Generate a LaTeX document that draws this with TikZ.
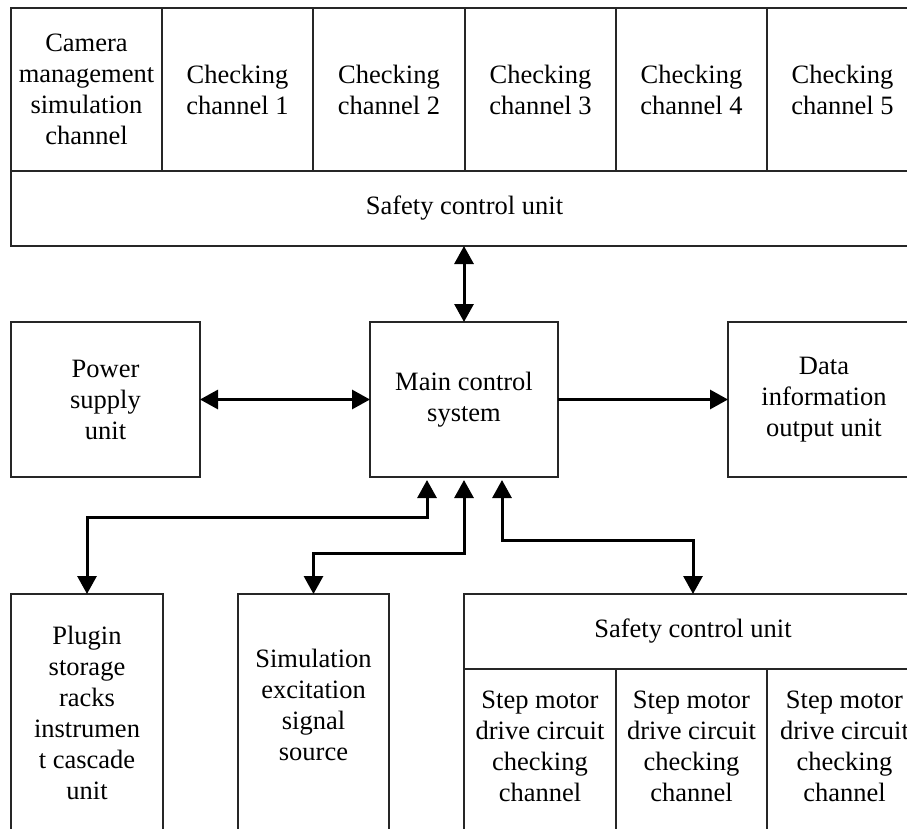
\documentclass[tikz,border=0pt]{standalone}
\usepackage{fontspec}
\setmainfont{Liberation Serif}
\usetikzlibrary{arrows.meta}
\tikzset{
  txt/.style={inner sep=0pt, align=center, font=\fontsize{26.5}{31}\selectfont},
  box/.style={draw=black!85, line width=1.1pt, inner sep=0pt, outer sep=0pt, txt},
  arr/.style={line width=3pt, {Triangle[length=18pt,width=19pt]}-{Triangle[length=18pt,width=19pt]}},
  arrone/.style={line width=3pt, -{Triangle[length=18pt,width=19pt]}}
}
\begin{document}
\begin{tikzpicture}[x=1pt,y=-1pt]
\useasboundingbox (0,0) rectangle (907,829);
\fill[white] (0,0) rectangle (907,829);
\clip (0,0) rectangle (907,829);
% top row
\node[box, minimum width=907pt, minimum height=75pt] (safetytop) at (464.5,208.5) {Safety control unit};
\node[box, minimum width=151pt, minimum height=163pt] (cam) at (86.5,89.5) {Camera\\management\\simulation\\channel};
\node[box, minimum width=151pt, minimum height=163pt] (ch1) at (237.5,89.5) {Checking\\channel 1};
\node[box, minimum width=152pt, minimum height=163pt] (ch2) at (389,89.5) {Checking\\channel 2};
\node[box, minimum width=151pt, minimum height=163pt] (ch3) at (540.5,89.5) {Checking\\channel 3};
\node[box, minimum width=151pt, minimum height=163pt] (ch4) at (691.5,89.5) {Checking\\channel 4};
\node[box, minimum width=151pt, minimum height=163pt] (ch5) at (842.5,89.5) {Checking\\channel 5};
% middle row
\node[box, minimum width=188pt, minimum height=155pt] (main) at (464,399.5) {Main control\\system};
\node[box, minimum width=189pt, minimum height=155pt] (power) at (105.5,399.5) {Power\\supply\\unit};
\node[box, minimum width=192pt, minimum height=155pt] (data) at (824,399.5) {Data\\information\\output unit};
% bottom row (boxes run past the lower edge)
\node[box, minimum width=152pt, minimum height=260pt,
  label={[txt, yshift=11pt]center:Plugin\\storage\\racks\\instrumen\\t cascade\\unit}] (plugin) at (87,724) {};
\node[box, minimum width=151pt, minimum height=260pt,
  label={[txt, yshift=19pt]center:Simulation\\excitation\\signal\\source}] (sim) at (313.5,724) {};
\node[box, minimum width=458pt, minimum height=75pt] (safetybot) at (693,631.5) {Safety control unit};
\node[box, minimum width=152pt, minimum height=185pt,
  label={[txt, yshift=15pt]center:Step motor\\drive circuit\\checking\\channel}] (step1) at (540,761) {};
\node[box, minimum width=151pt, minimum height=185pt,
  label={[txt, yshift=15pt]center:Step motor\\drive circuit\\checking\\channel}] (step2) at (691.5,761) {};
\node[box, minimum width=155pt, minimum height=185pt,
  label={[txt, yshift=15pt]center:Step motor\\drive circuit\\checking\\channel}] (step3) at (844.5,761) {};
% connectors
\draw[arr] (main.north |- safetytop.south) -- (main.north);
\draw[arr] (power.east) -- (main.west);
\draw[arrone] (main.east) -- (data.west);
\draw[arr, shorten <=3pt] ([xshift=-37pt]main.south) -- ++(0,40) -| (plugin.north);
\draw[arr, shorten <=3pt] (main.south) -- ++(0,76) -| (sim.north);
\draw[arr, shorten <=3pt] ([xshift=38pt]main.south) -- ++(0,63) -| (safetybot.north);
\end{tikzpicture}
\end{document}
